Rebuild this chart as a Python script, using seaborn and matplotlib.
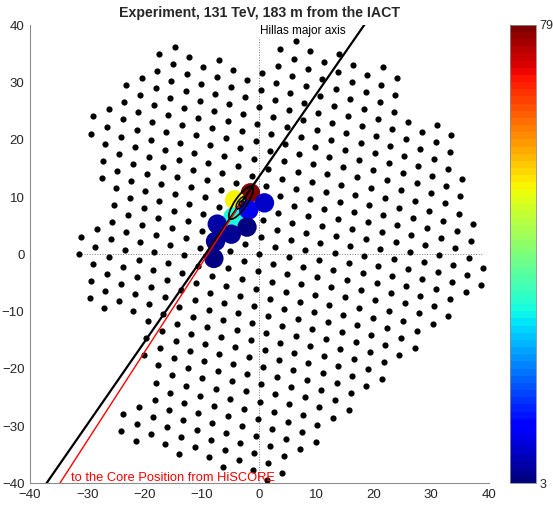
import numpy as np
import pandas as pd
import matplotlib
matplotlib.use("Agg")
import matplotlib.pyplot as plt
import seaborn as sns
from matplotlib.patches import Ellipse
from matplotlib.colors import Normalize
from matplotlib.cm import ScalarMappable

# ---------------- data ----------------
# camera pixel layout: hexagonal lattice, one entry per run of pixels
# along a lattice column (column index, first and last row index)
col_index   = [-12, -12, -11, -11, -10, -9, -8, -8, -7, -7, -6, -5, -4, -3, -2, -1,
               0, 1, 2, 3, 4, 5, 6, 7, 8, 9, 10, 11, 12, 13, 14, 15]
col_j_start = [5, 12, 2, 9, 1, 1, -7, 0, -8, -3, -8, -9, -10, -10, -11, -12,
               -12, -13, -14, -14, -13, -13, -12, -12, -11, -11, -10, -10, -9, -9, -8, -8]
col_j_end   = [6, 13, 6, 13, 14, 14, -6, 15, -6, 15, 14, 13, 13, 12, 11, 11,
               12, 12, 11, 10, 10, 9, 8, 8, 7, 4, 3, 3, 2, -1, -4, -7]
pixel_pitch = 3.01        # cm between neighbouring pixels
lattice_rotation = 24.3   # deg

# triggered pixels (lattice indices) and their amplitudes
hit_i   = [-1, -2, -2, -1, 0, -3, -1, -2, -3, -3]
hit_j   = [4, 4, 3, 3, 3, 3, 2, 2, 2, 1]
hit_amp = [79, 52, 32, 11, 8, 6, 3, 5, 5, 4]
amp_min, amp_max = 3, 79

# Hillas parameters
centroid = (-3.2, 9.0)
hillas_angle = 55.3       # deg
hillas_length = 3.4
hillas_width = 1.05
inner_length = 1.25
inner_width = 0.55
core_end = (-34.8, -40.0)  # direction to HiSCORE core position

hline_x = (-30.6, 38.9)
vline_y = (-40.0, 37.8)

ticks = [-40, -30, -20, -10, 0, 10, 20, 30, 40]

# ---------------- build tables ----------------
th = np.deg2rad(lattice_rotation)
e1 = pixel_pitch * np.array([np.cos(th), np.sin(th)])
e2 = pixel_pitch * np.array([np.cos(th + np.pi / 3), np.sin(th + np.pi / 3)])

ii, jj = [], []
for c, a, b in zip(col_index, col_j_start, col_j_end):
    for j in range(a, b + 1):
        ii.append(c)
        jj.append(j)
ii = np.array(ii)
jj = np.array(jj)
pix = pd.DataFrame({"x": ii * e1[0] + jj * e2[0], "y": ii * e1[1] + jj * e2[1]})

hi = np.array(hit_i)
hj = np.array(hit_j)
hits = pd.DataFrame({"x": hi * e1[0] + hj * e2[0], "y": hi * e1[1] + hj * e2[1],
                     "amp": hit_amp})

# ---------------- plot ----------------
sns.set_style("white")
plt.rcParams["font.family"] = ["Liberation Sans", "DejaVu Sans"]

fig = plt.figure(figsize=(5.53, 5.09), dpi=100)
ax = fig.add_axes([30.0 / 553, 25.7 / 509, 458.6 / 553, 458.0 / 509])

cmap = matplotlib.colormaps["jet"].resampled(64)

ax.plot(hline_x, [0, 0], ls=":", color="#7a7a7a", lw=0.7, zorder=1)
ax.plot([0, 0], vline_y, ls=":", color="#7a7a7a", lw=0.7, zorder=1)

sns.scatterplot(data=pix, x="x", y="y", color="black", s=20, linewidth=0,
                ax=ax, zorder=2)
sns.scatterplot(data=hits, x="x", y="y", hue="amp", palette=cmap,
                hue_norm=(amp_min, amp_max), s=195, linewidth=0,
                legend=False, ax=ax, zorder=3)

a = np.deg2rad(hillas_angle)
d = np.array([np.cos(a), np.sin(a)])
ax.plot([centroid[0] - 120 * d[0], centroid[0] + 120 * d[0]],
        [centroid[1] - 120 * d[1], centroid[1] + 120 * d[1]],
        color="black", lw=1.6, zorder=5)
ax.plot([centroid[0], core_end[0]], [centroid[1], core_end[1]],
        color="red", lw=1.0, zorder=6)

ax.add_patch(Ellipse(centroid, 2 * hillas_length, 2 * hillas_width,
                     angle=hillas_angle, fill=False, ec="black", lw=1.3, zorder=7))
ax.add_patch(Ellipse(centroid, 2 * inner_length, 2 * inner_width,
                     angle=hillas_angle, fill=False, ec="black", lw=1.1, zorder=7))
ax.plot([centroid[0]], [centroid[1]], marker="o", ms=3.5, mfc="none",
        mec="black", mew=1.0, zorder=8)

ax.text(0.1, 38.4, "Hillas major axis", fontsize=8.5, color="black",
        ha="left", va="baseline", zorder=9)
ax.text(-32.9, -39.6, "to the Core Position from HiSCORE", fontsize=9.3,
        color="red", ha="left", va="baseline", zorder=9)

ax.set_xlim(-40, 40)
ax.set_ylim(-40, 40)
ax.set_xticks(ticks)
ax.set_yticks(ticks)
ax.set_xlabel("")
ax.set_ylabel("")
for s in ["top", "right"]:
    ax.spines[s].set_visible(False)
for s in ["left", "bottom"]:
    ax.spines[s].set_color("#8c8c8c")
    ax.spines[s].set_linewidth(0.8)
ax.tick_params(direction="in", length=3.5, width=0.8, color="#8c8c8c",
               labelsize=9.5, labelcolor="#262626", pad=4)
ax.set_title("Experiment, 131 TeV, 183 m from the IACT", fontsize=10.2,
             fontweight="bold", pad=6)

cax = fig.add_axes([510.0 / 553, 25.7 / 509, 26.0 / 553, 458.6 / 509])
sm = ScalarMappable(norm=Normalize(amp_min, amp_max), cmap=cmap)
cb = fig.colorbar(sm, cax=cax, ticks=[amp_min, amp_max])
cb.outline.set_linewidth(0.6)
cb.outline.set_edgecolor("#8c8c8c")
cax.tick_params(length=0, labelsize=9.0, labelcolor="#262626", pad=2.5)

fig.savefig("out.png", dpi=100)
